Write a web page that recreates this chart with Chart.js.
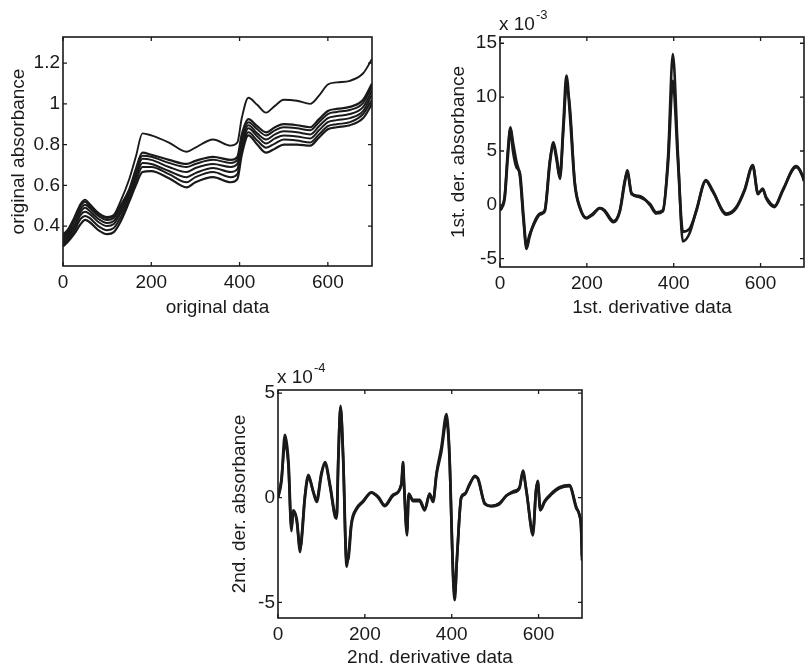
<!DOCTYPE html>
<html>
<head>
<meta charset="utf-8">
<script src="https://cdn.jsdelivr.net/npm/chart.js@4.4.1/dist/chart.umd.min.js"></script>
<style>
  body { margin: 0; background: #fff; width: 805px; height: 670px; overflow: hidden; }
  canvas { position: absolute; }
</style>
</head>
<body>
<canvas id="origChart" width="400" height="320" style="left:0;top:0"></canvas>
<canvas id="der1Chart" width="385" height="320" style="left:420px;top:0"></canvas>
<canvas id="der2Chart" width="420" height="330" style="left:200px;top:340px"></canvas>
<script>
// ---- data ----
const xTicks = [0, 200, 400, 600];

// original spectra (absorbance)
const origX = [0,10,25,40,50,60,80,100,115,130,150,165,180,200,240,280,300,340,380,395,405,420,440,460,480,500,530,560,580,600,620,650,680,700];
const origOutlier = [0.36,0.38,0.44,0.51,0.53,0.51,0.465,0.445,0.455,0.52,0.63,0.74,0.855,0.845,0.81,0.765,0.785,0.825,0.795,0.81,0.93,1.03,0.995,0.957,0.99,1.02,1.015,1.0,1.04,1.095,1.105,1.113,1.15,1.22];
const origS1 = [0.35,0.37,0.43,0.50,0.52,0.50,0.46,0.44,0.45,0.50,0.58,0.68,0.76,0.75,0.725,0.705,0.72,0.74,0.725,0.74,0.85,0.925,0.89,0.86,0.885,0.90,0.895,0.885,0.925,0.965,0.975,0.985,1.02,1.10];
const origS2 = [0.34,0.36,0.42,0.485,0.505,0.49,0.45,0.43,0.44,0.49,0.57,0.67,0.745,0.74,0.71,0.69,0.705,0.725,0.71,0.725,0.835,0.91,0.875,0.845,0.87,0.885,0.88,0.87,0.91,0.95,0.96,0.97,1.005,1.085];
const origS3 = [0.33,0.35,0.40,0.47,0.49,0.475,0.435,0.415,0.425,0.475,0.56,0.655,0.73,0.725,0.69,0.665,0.685,0.705,0.69,0.705,0.815,0.895,0.855,0.825,0.85,0.865,0.86,0.85,0.89,0.93,0.94,0.95,0.985,1.065];
const origS4 = [0.32,0.34,0.39,0.455,0.47,0.46,0.42,0.40,0.41,0.46,0.545,0.64,0.71,0.705,0.67,0.64,0.66,0.685,0.665,0.68,0.79,0.88,0.84,0.805,0.83,0.845,0.84,0.83,0.87,0.91,0.92,0.93,0.965,1.045];
const origS5 = [0.31,0.33,0.375,0.435,0.45,0.44,0.40,0.38,0.39,0.44,0.53,0.62,0.69,0.69,0.655,0.615,0.64,0.665,0.64,0.655,0.77,0.86,0.82,0.785,0.805,0.825,0.82,0.81,0.85,0.89,0.90,0.91,0.95,1.02];
const origS6 = [0.30,0.32,0.36,0.41,0.43,0.42,0.38,0.36,0.37,0.42,0.52,0.60,0.665,0.67,0.635,0.59,0.615,0.64,0.615,0.63,0.75,0.845,0.80,0.76,0.78,0.80,0.80,0.795,0.835,0.875,0.885,0.895,0.93,1.0];
const origYTicks = [0.4, 0.6, 0.8, 1, 1.2];

// 1st derivative (x 10^-3)
const der1X = [0,4,11,18,24,30,38,46,54,61,68,77,92,103,115,123,130,138,146,153,161,172,184,199,214,230,241,261,276,287,293,303,322,345,360,375,387,398,410,421,437,452,474,490,521,544,563,582,594,605,613,632,651,682,697,700];
const der1A = [-0.5,-0.3,0.7,4.5,7.0,5.0,3.5,2.9,-1.0,-3.8,-2.8,-1.9,-0.9,-0.6,3.9,5.8,4.5,2.7,7.5,12.0,8.4,2.0,-0.3,-1.25,-0.9,-0.3,-0.6,-1.6,-0.6,2.0,3.2,1.0,0.8,0.0,-0.8,-0.6,3.9,11.5,3.9,-2.5,-2.2,-0.6,2.3,1.3,-0.9,-0.3,1.3,3.6,1.0,1.5,0.6,-0.2,1.3,3.6,2.6,2.2];
const der1B = [-0.5,-0.2,0.9,5.0,7.2,5.8,4.0,2.6,-1.4,-4.1,-3.0,-1.8,-0.8,-0.5,4.2,5.5,4.2,2.4,7.0,11.0,9.0,2.2,-0.2,-1.2,-0.8,-0.3,-0.5,-1.5,-0.5,2.2,3.0,1.1,0.7,0.1,-0.7,-0.5,4.5,14.0,4.5,-3.4,-2.6,-0.5,2.2,1.2,-0.8,-0.2,1.4,3.7,1.1,1.4,0.7,-0.1,1.4,3.5,2.7,2.3];
const der1YTicks = [-5, 0, 5, 10, 15];

// 2nd derivative (x 10^-4)
const der2X = [0,8,16,24,31,35,43,51,54,62,70,81,89,100,108,120,131,135,139,144,150,158,162,169,181,196,215,231,246,265,284,288,290,297,301,311,326,338,349,357,365,376,388,395,403,407,412,422,430,441,453,460,476,491,510,526,541,556,564,572,587,594,598,604,614,629,648,671,687,694,698,700];
const der2A = [0,0.8,3.0,1.75,-1.4,-0.6,-1.0,-2.4,-2.1,0,1.0,0.3,-0.2,1.1,1.7,0.6,-0.8,-0.9,1.9,4.3,1.9,-3.0,-2.9,-1.3,-0.55,-0.2,0.25,0,-0.4,0.1,0.65,1.7,0.8,-1.6,0.16,-0.16,-0.16,-0.6,0.16,-0.2,1.1,2.2,3.7,1.9,-3.5,-4.6,-2.9,0,0.15,0.65,1.0,0.95,-0.3,-0.4,-0.3,0.1,0.25,0.45,1.3,0.3,-1.6,0.3,0.8,-0.6,-0.2,0.15,0.45,0.55,-0.5,-0.8,-1.4,-2.8];
const der2B = [0,0.9,2.6,1.5,-1.6,-0.7,-1.1,-2.6,-2.0,0.1,1.1,0.3,-0.1,1.2,1.6,0.5,-0.9,-1.0,2.0,4.4,2.0,-3.3,-2.8,-1.2,-0.5,-0.15,0.25,0.05,-0.35,0.15,0.6,1.6,0.7,-1.8,0.2,-0.1,-0.1,-0.55,0.2,-0.15,1.2,2.4,4.0,2.0,-3.8,-4.9,-3.0,0.05,0.2,0.6,1.05,0.9,-0.25,-0.4,-0.25,0.1,0.3,0.5,1.2,0.35,-1.8,0.35,0.75,-0.55,-0.15,0.2,0.5,0.6,-0.45,-0.85,-1.5,-3.0];
const der2YTicks = [-5, 0, 5];

// ---- styling ----
const INK = '#1a1a1a';
const FONT = '"Liberation Sans", Arial, sans-serif';
Chart.defaults.font.family = FONT;
Chart.defaults.font.size = 19;
Chart.defaults.color = INK;

function toPoints(xs, ys) {
  return xs.map((x, i) => ({ x: x, y: ys[i] }));
}

function lineSet(xs, ys, width) {
  return {
    data: toPoints(xs, ys),
    borderColor: INK,
    borderWidth: width,
    pointRadius: 0,
    cubicInterpolationMode: 'monotone',
    fill: false
  };
}

// box around the plot, inward ticks on all four sides, and the "x 10^n" note
const matlabAxes = {
  id: 'matlabAxes',
  afterDatasetsDraw(chart, args, opts) {
    const { ctx, chartArea: a, scales: { x, y } } = chart;
    ctx.save();
    ctx.strokeStyle = INK;
    ctx.lineWidth = 1.6;
    ctx.strokeRect(a.left, a.top, a.right - a.left, a.bottom - a.top);
    ctx.lineWidth = 1.3;
    const len = 4;
    ctx.beginPath();
    x.ticks.forEach(t => {
      const px = x.getPixelForValue(t.value);
      ctx.moveTo(px, a.bottom); ctx.lineTo(px, a.bottom - len);
      ctx.moveTo(px, a.top); ctx.lineTo(px, a.top + len);
    });
    y.ticks.forEach(t => {
      const py = y.getPixelForValue(t.value);
      ctx.moveTo(a.left, py); ctx.lineTo(a.left + len, py);
      ctx.moveTo(a.right, py); ctx.lineTo(a.right - len, py);
    });
    ctx.stroke();
    if (opts.exponent) {
      ctx.fillStyle = INK;
      ctx.textBaseline = 'alphabetic';
      ctx.font = '19px ' + FONT;
      const base = 'x 10';
      ctx.fillText(base, a.left - 1, a.top - 7);
      const w = ctx.measureText(base).width;
      ctx.font = '13px ' + FONT;
      ctx.fillText(opts.exponent, a.left + w, a.top - 18);
    }
    ctx.restore();
  }
};

function makeChart(id, cfg) {
  return new Chart(document.getElementById(id), {
    type: 'line',
    data: { datasets: cfg.datasets },
    plugins: [matlabAxes],
    options: {
      responsive: false,
      animation: false,
      events: [],
      layout: { padding: cfg.padding },
      plugins: {
        legend: { display: false },
        tooltip: { enabled: false },
        matlabAxes: { exponent: cfg.exponent }
      },
      scales: {
        x: {
          type: 'linear',
          min: 0,
          max: 700,
          grid: { display: false, drawTicks: false },
          border: { display: false },
          afterBuildTicks: s => { s.ticks = xTicks.map(v => ({ value: v })); },
          afterFit: s => { s.height = cfg.xAxisHeight; },
          ticks: { padding: 5, maxRotation: 0, color: INK },
          title: { display: true, text: cfg.xTitle, color: INK, padding: { top: 0, bottom: 1 } }
        },
        y: {
          type: 'linear',
          min: cfg.yMin,
          max: cfg.yMax,
          grid: { display: false, drawTicks: false },
          border: { display: false },
          afterBuildTicks: s => { s.ticks = cfg.yTicks.map(v => ({ value: v })); },
          afterFit: s => { s.width = cfg.yAxisWidth; },
          ticks: {
            padding: 3,
            color: INK,
            callback: v => String(Number(v.toFixed(2)))
          },
          title: { display: true, text: cfg.yTitle, color: INK, padding: { top: cfg.yTitlePad, bottom: 0 } }
        }
      }
    }
  });
}

// original data
makeChart('origChart', {
  datasets: [
    lineSet(origX, origOutlier, 1.9),
    lineSet(origX, origS1, 2.2),
    lineSet(origX, origS2, 2.0),
    lineSet(origX, origS3, 2.0),
    lineSet(origX, origS4, 2.0),
    lineSet(origX, origS5, 2.0),
    lineSet(origX, origS6, 2.2)
  ],
  padding: { left: 0, top: 37, right: 28, bottom: 0 },
  xAxisHeight: 54,
  yAxisWidth: 63,
  yMin: 0.204,
  yMax: 1.328,
  yTicks: origYTicks,
  xTitle: 'original data',
  yTitle: 'original absorbance',
  yTitlePad: 7
});

// 1st derivative
makeChart('der1Chart', {
  datasets: [
    lineSet(der1X, der1B, 2.6),
    lineSet(der1X, der1A, 2.8)
  ],
  padding: { left: 0, top: 37, right: 1, bottom: 0 },
  xAxisHeight: 53,
  yAxisWidth: 80,
  yMin: -5.77,
  yMax: 15.58,
  yTicks: der1YTicks,
  xTitle: '1st. derivative data',
  yTitle: '1st. der. absorbance',
  yTitlePad: 27,
  exponent: '-3'
});

// 2nd derivative
makeChart('der2Chart', {
  datasets: [
    lineSet(der2X, der2B, 2.6),
    lineSet(der2X, der2A, 2.8)
  ],
  padding: { left: 0, top: 50, right: 38, bottom: 0 },
  xAxisHeight: 52,
  yAxisWidth: 78,
  yMin: -5.75,
  yMax: 5.15,
  yTicks: der2YTicks,
  xTitle: '2nd. derivative data',
  yTitle: '2nd. der. absorbance',
  yTitlePad: 28,
  exponent: '-4'
});
</script>
</body>
</html>
